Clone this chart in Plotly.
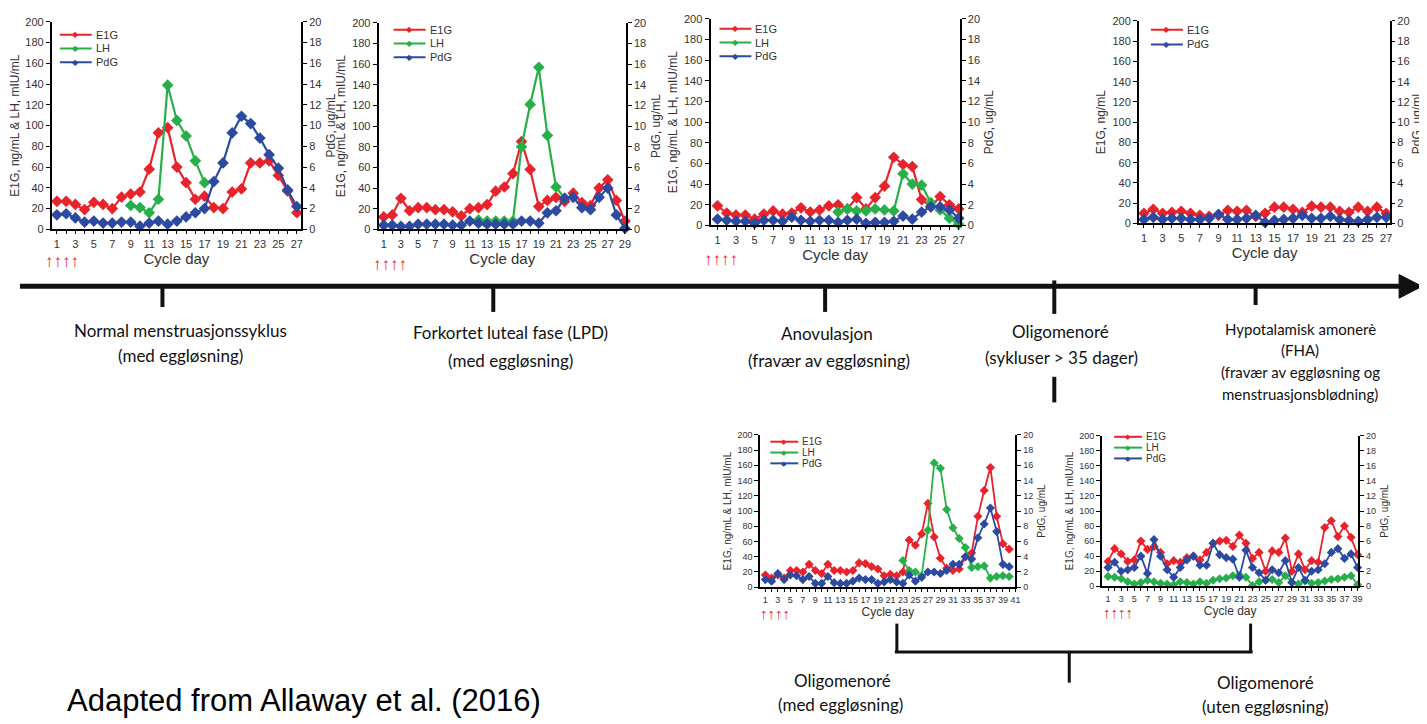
import plotly.graph_objects as go

# The page body has an 8px default margin, so the figure is sized to fill the
# remaining window and pixel positions are measured from the window corner.
OFF = 8
W, H = 1427 - OFF, 724 - OFF


def X(p):
    return (p - OFF) / W


def Y(p):
    return 1 - (p - OFF) / H


RED = "#e8232b"
GREEN = "#27b04a"
BLUE = "#2b4aa0"

# ---------------- data ----------------
# Panel 1: normal cycle
p1_days = list(range(1, 28))
p1_e1g = [27, 27, 24, 19, 26, 24, 20, 31, 34, 36, 58, 93, 98, 60, 45, 29, 32, 21, 20, 36, 39, 64, 64, 66, 52, 37, 16]
p1_lh_days = list(range(9, 18))
p1_lh = [23, 21, 16, 29, 139, 105, 90, 66, 45]
p1_pdg = [1.4, 1.5, 1.1, 0.7, 0.8, 0.6, 0.6, 0.7, 0.7, 0.3, 0.6, 0.8, 0.5, 0.8, 1.2, 1.6, 2.0, 4.6, 6.4, 9.3, 10.9, 10.2, 8.8, 7.2, 5.9, 3.8, 2.2]

# Panel 2: luteal phase defect
p2_days = list(range(1, 30))
p2_e1g = [12, 14, 30, 18, 21, 21, 19, 19, 17, 13, 20, 21, 24, 37, 41, 54, 85, 58, 22, 28, 31, 27, 35, 26, 23, 40, 48, 28, 8]
p2_lh_days = list(range(12, 23))
p2_lh = [9, 8, 8, 8, 8, 80, 121, 157, 91, 41, 30]
p2_pdg = [0.4, 0.4, 0.3, 0.3, 0.5, 0.5, 0.5, 0.5, 0.4, 0.4, 0.8, 0.6, 0.5, 0.5, 0.5, 0.5, 0.8, 0.8, 0.6, 1.6, 1.8, 3.0, 3.1, 2.1, 1.9, 3.1, 4.0, 1.4, 0.1]

# Panel 3: anovulation
p3_days = list(range(1, 28))
p3_e1g = [19, 12, 10, 10, 6, 11, 14, 11, 12, 17, 13, 15, 19, 20, 16, 27, 16, 27, 38, 66, 59, 57, 25, 18, 28, 20, 16]
p3_lh_days = list(range(14, 28))
p3_lh = [13, 16, 14, 14, 16, 15, 14, 50, 40, 39, 22, 15, 7, 1]
p3_pdg = [0.6, 0.5, 0.4, 0.4, 0.2, 0.5, 0.5, 0.4, 0.8, 0.5, 0.4, 0.5, 0.5, 0.3, 0.5, 0.6, 0.2, 0.3, 0.3, 0.4, 0.9, 0.6, 1.3, 1.8, 1.8, 1.5, 0.7]

# Panel 4: functional hypothalamic amenorrhea
p4_days = list(range(1, 28))
p4_e1g = [10, 14, 10, 11, 12, 10, 8, 7, 8, 13, 12, 13, 7, 10, 16, 16, 14, 11, 17, 16, 16, 12, 11, 16, 12, 16, 10]
p4_pdg = [0.4, 0.6, 0.4, 0.5, 0.5, 0.4, 0.4, 0.5, 0.9, 0.4, 0.4, 0.5, 0.8, 0.1, 0.3, 0.4, 0.5, 0.8, 0.5, 0.5, 0.7, 0.4, 0.3, 0.2, 0.4, 0.6, 0.6]

# Panel 5: oligomenorrhea with ovulation
p5_days = list(range(1, 41))
p5_e1g = [16, 12, 16, 12, 22, 22, 20, 30, 22, 18, 30, 22, 22, 20, 22, 32, 31, 27, 24, 15, 17, 15, 20, 62, 55, 70, 110, 66, 38, 25, 22, 24, 40, 45, 93, 127, 157, 93, 57, 50]
p5_lh_days = list(range(23, 41))
p5_lh = [35, 22, 20, 15, 75, 163, 156, 102, 78, 64, 52, 26, 27, 28, 12, 14, 15, 14]
p5_pdg = [1.0, 0.8, 1.8, 1.0, 1.6, 1.5, 1.0, 1.4, 0.5, 0.5, 1.4, 0.6, 0.5, 0.5, 0.8, 1.2, 1.0, 1.0, 0.5, 0.7, 1.0, 0.7, 0.5, 1.6, 0.8, 1.3, 2.0, 2.0, 1.8, 2.2, 3.0, 3.0, 4.0, 3.7, 6.5, 8.3, 10.4, 7.3, 3.0, 2.7]

# Panel 6: oligomenorrhea without ovulation
p6_days = list(range(1, 40))
p6_e1g = [33, 50, 43, 33, 35, 60, 49, 53, 45, 30, 34, 32, 38, 40, 35, 45, 57, 60, 61, 53, 68, 57, 37, 45, 20, 47, 45, 64, 20, 43, 22, 34, 32, 78, 87, 66, 80, 65, 42]
p6_lh = [13, 12, 10, 6, 3, 5, 8, 6, 4, 3, 2, 6, 5, 3, 6, 4, 8, 10, 11, 14, 15, 12, 1, 6, 8, 9, 5, 14, 5, 3, 7, 4, 5, 7, 9, 10, 12, 14, 2]
p6_pdg = [2.5, 3.2, 2.0, 2.2, 2.5, 4.0, 1.7, 6.2, 4.0, 2.2, 1.2, 2.5, 3.5, 4.0, 2.8, 2.8, 5.7, 4.2, 3.8, 3.6, 1.2, 4.8, 2.5, 1.8, 0.8, 2.2, 1.8, 3.4, 0.5, 2.5, 0.8, 2.0, 2.2, 3.0, 4.5, 5.0, 3.7, 4.3, 2.5]

LEFT_TITLE = "E1G, ng/mL & LH, mIU/mL"
RIGHT_TITLE = "PdG, ug/mL"

panels = [
    dict(e1g=(p1_days, p1_e1g), lh=(p1_lh_days, p1_lh), pdg=(p1_days, p1_pdg), xmax=27,
         box=(52, 302, 16, 227), xr=[0.45, 27.45], lt=LEFT_TITLE, big=True, rstand=6,
         leg=(60, 29, 14), arrows=(62, 260)),
    dict(e1g=(p2_days, p2_e1g), lh=(p2_lh_days, p2_lh), pdg=(p2_days, p2_pdg), xmax=29,
         box=(380, 628, 17, 227), xr=[0.42, 29.1], lt=LEFT_TITLE, big=True, rstand=6,
         leg=(395, 24, 14), arrows=(391, 263)),
    dict(e1g=(p3_days, p3_e1g), lh=(p3_lh_days, p3_lh), pdg=(p3_days, p3_pdg), xmax=27,
         box=(713, 963, 13, 223), xr=[0.25, 27.1], lt=LEFT_TITLE, big=True, rstand=6,
         leg=(722, 23, 14), arrows=(724, 258)),
    dict(e1g=(p4_days, p4_e1g), lh=None, pdg=(p4_days, p4_pdg), xmax=27,
         box=(1143, 1395, 15, 221), xr=[0.47, 27.42], lt="E1G, ng/mL", big=True, rstand=0,
         leg=(1155, 24, 15), arrows=None),
    dict(e1g=(p5_days, p5_e1g), lh=(p5_lh_days, p5_lh), pdg=(p5_days, p5_pdg), xmax=41,
         box=(763, 1019, 436, 591), xr=[0.2, 41], lt=LEFT_TITLE, big=False, rstand=6,
         leg=(773, 443, 11), arrows=(778, 618)),
    dict(e1g=(p6_days, p6_e1g), lh=(p6_days, p6_lh), pdg=(p6_days, p6_pdg), xmax=39,
         box=(1106, 1363, 437, 590), xr=[0.1, 39.1], lt=LEFT_TITLE, big=False, rstand=6,
         leg=(1118, 438, 11), arrows=(1122, 617)),
]

fig = go.Figure()
shapes = []
annotations = []
layout_axes = {}

TXT = "#333333"

for k, p in enumerate(panels, start=1):
    xs = "x" if k == 1 else f"x{k}"
    yl = "y" if k == 1 else f"y{k}"
    yr = f"y{k + 6}"
    big = p["big"]
    ms = 9 if big else 7
    lw = 2.2 if big else 1.8
    series = [("E1G", RED, p["e1g"], yl), ("LH", GREEN, p["lh"], yl), ("PdG", BLUE, p["pdg"], yr)]
    for name, col, d, ya in series:
        if d is None:
            continue
        fig.add_trace(go.Scatter(
            x=d[0], y=d[1], name=name, mode="lines+markers",
            line=dict(color=col, width=lw),
            marker=dict(symbol="diamond", size=ms, color=col),
            xaxis=xs, yaxis=ya, showlegend=False, cliponaxis=False))

    x0, x1, y0, y1 = p["box"]
    tfs = 11 if big else 9
    xkey = "xaxis" if k == 1 else f"xaxis{k}"
    ykey = "yaxis" if k == 1 else f"yaxis{k}"
    rkey = f"yaxis{k + 6}"
    axline = dict(showline=True, linecolor="black", linewidth=2, showgrid=False, zeroline=False,
                  ticks="outside", tickcolor="black", tickfont=dict(size=tfs, color=TXT))
    layout_axes[xkey] = dict(
        domain=[X(x0), X(x1)], anchor=yl, range=p["xr"],
        tickvals=list(range(1, p["xmax"] + 1, 2)), ticklen=3,
        minor=dict(dtick=1, ticklen=3, tickcolor="black", ticks="outside"),
        title=dict(text="Cycle day", font=dict(size=15 if big else 12, color=TXT), standoff=3),
        **axline)
    layout_axes[ykey] = dict(
        domain=[Y(y1), Y(y0)], anchor=xs, range=[0, 200], tickvals=list(range(0, 201, 20)),
        ticklen=4, title=dict(text=p["lt"], font=dict(size=12 if big else 10, color=TXT), standoff=4),
        **axline)
    layout_axes[rkey] = dict(
        overlaying=yl, side="right", anchor=xs, range=[0, 20], tickvals=list(range(0, 21, 2)),
        ticklen=3 if p["rstand"] == 0 else 4,
        title=dict(text=RIGHT_TITLE, font=dict(size=12 if big else 10, color=TXT), standoff=p["rstand"]),
        **axline)

    # legend (drawn manually, compact like the original)
    lx, ly, step = p["leg"]
    names = [("E1G", RED), ("LH", GREEN), ("PdG", BLUE)] if p["lh"] is not None else [("E1G", RED), ("PdG", BLUE)]
    llen = 32 if big else 28
    for i, (nm, col) in enumerate(names):
        yy = ly + i * step
        shapes.append(dict(type="line", xref="paper", yref="paper", x0=X(lx), x1=X(lx + llen),
                           y0=Y(yy), y1=Y(yy), line=dict(color=col, width=2)))
        annotations.append(dict(x=X(lx + llen / 2), y=Y(yy), xref="paper", yref="paper", text="◆",
                                showarrow=False, font=dict(size=8 if big else 7, color=col),
                                xanchor="center", yanchor="middle"))
        annotations.append(dict(x=X(lx + llen + 2), y=Y(yy), xref="paper", yref="paper", text=nm,
                                showarrow=False, font=dict(size=11 if big else 10, color=TXT),
                                xanchor="left", yanchor="middle"))
    if p["arrows"] is not None:
        ax, ay = p["arrows"]
        annotations.append(dict(x=X(ax), y=Y(ay), xref="paper", yref="paper", text="↑↑↑↑",
                                showarrow=False, font=dict(size=17 if big else 15, color="#e8232b"),
                                xanchor="center", yanchor="middle"))

# ---------------- timeline ----------------
TL = "#111111"
shapes.append(dict(type="line", xref="paper", yref="paper", x0=X(20), x1=X(1408), y0=Y(285), y1=Y(285),
                   line=dict(color=TL, width=5)))
shapes.append(dict(type="path", xref="paper", yref="paper",
                   path=f"M {X(1404)} {Y(273)} L {X(1427)} {Y(285)} L {X(1404)} {Y(297)} Z",
                   fillcolor=TL, line=dict(color=TL, width=1)))
for tx, t0, t1 in [(163, 286, 306), (495, 286, 311), (828, 286, 311), (1058, 279, 313), (1260, 286, 304),
                   (1058, 377, 403)]:
    shapes.append(dict(type="line", xref="paper", yref="paper", x0=X(tx), x1=X(tx), y0=Y(t0), y1=Y(t1),
                       line=dict(color=TL, width=4)))
# bracket for the two oligomenorrhea panels
for seg in [(900, 628, 900, 657), (1255, 628, 1255, 657), (898, 657, 1257, 657), (1073, 657, 1073, 688)]:
    shapes.append(dict(type="line", xref="paper", yref="paper", x0=X(seg[0]), x1=X(seg[2]),
                       y0=Y(seg[1]), y1=Y(seg[3]), line=dict(color=TL, width=3)))

LABEL_FONT = "Lato, 'Noto Sans', sans-serif"
labels = [
    ("Normal menstruasjonssyklus", 181, 330, 17),
    ("(med eggløsning)", 181, 355, 17),
    ("Forkortet luteal fase (LPD)", 512, 332, 17),
    ("(med eggløsning)", 512, 360, 17),
    ("Anovulasjon", 830, 333, 17),
    ("(fravær av eggløsning)", 832, 360, 17),
    ("Oligomenoré", 1064, 331, 17),
    ("(sykluser > 35 dager)", 1065, 357, 17),
    ("Hypotalamisk amonerè", 1305, 328, 15),
    ("(FHA)", 1305, 350, 15),
    ("(fravær av eggløsning og", 1305, 372, 15),
    ("menstruasjonsblødning)", 1305, 394, 15),
    ("Oligomenoré", 845, 686, 17),
    ("(med eggløsning)", 843, 710, 17),
    ("Oligomenoré", 1270, 688, 17),
    ("(uten eggløsning)", 1270, 712, 17),
]
for txt, lx, ly, fs in labels:
    annotations.append(dict(x=X(lx), y=Y(ly), xref="paper", yref="paper", text=txt, showarrow=False,
                            font=dict(size=fs, color="#111111", family=LABEL_FONT),
                            xanchor="center", yanchor="middle"))

annotations.append(dict(x=X(65), y=Y(706), xref="paper", yref="paper", text="Adapted from Allaway et al. (2016)",
                        showarrow=False, font=dict(size=31, color="#000000", family="Liberation Sans, Arial"),
                        xanchor="left", yanchor="middle"))

fig.update_layout(
    width=W, height=H, margin=dict(l=0, r=0, t=0, b=0),
    paper_bgcolor="white", plot_bgcolor="white",
    font=dict(family="Liberation Sans, Arial, sans-serif", color=TXT),
    shapes=shapes, annotations=annotations, showlegend=False,
    **layout_axes,
)

fig.write_html("out.html")
